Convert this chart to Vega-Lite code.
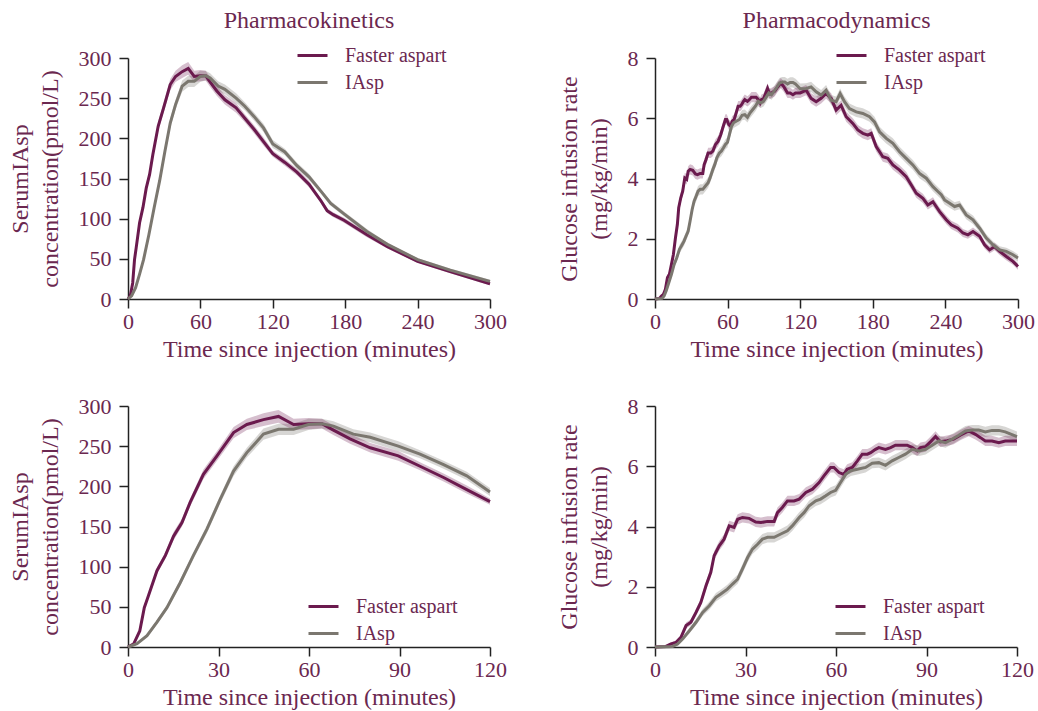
{
  "$schema": "https://vega.github.io/schema/vega-lite/v6.json",
  "background": "white",
  "padding": {"left": 8, "top": 9, "right": 5, "bottom": 3},
  "config": {
    "font": "Liberation Serif",
    "view": {"stroke": null},
    "axis": {
      "grid": false,
      "domainColor": "#222222",
      "tickColor": "#222222",
      "domainWidth": 1.5,
      "tickWidth": 1.5,
      "tickSize": 9,
      "labelFont": "Liberation Serif",
      "labelFontSize": 22,
      "labelColor": "#6b2850",
      "titleFont": "Liberation Serif",
      "titleFontSize": 24,
      "titleFontWeight": "normal",
      "titleColor": "#6b2850",
      "titleLineHeight": 30
    },
    "axisX": {"labelPadding": 3, "titlePadding": 5, "labelFlush": false},
    "axisY": {"labelPadding": 8, "titlePadding": 16},
    "legend": {
      "labelFont": "Liberation Serif",
      "labelFontSize": 20,
      "labelColor": "#6b2850",
      "symbolType": "stroke",
      "symbolSize": 900,
      "symbolStrokeWidth": 3,
      "labelOffset": 16,
      "rowPadding": -7,
      "padding": 0
    },
    "title": {
      "font": "Liberation Serif",
      "fontSize": 24,
      "fontWeight": "normal",
      "color": "#6b2850",
      "frame": "group",
      "offset": 6
    }
  },
  "datasets": {
    "pk": [
      {"s": "Faster aspart", "t": 0, "v": 0, "se": 0},
      {"s": "Faster aspart", "t": 1.9, "v": 4, "se": 1},
      {"s": "Faster aspart", "t": 3.9, "v": 20, "se": 2},
      {"s": "Faster aspart", "t": 5.4, "v": 49, "se": 3},
      {"s": "Faster aspart", "t": 6.8, "v": 64, "se": 3},
      {"s": "Faster aspart", "t": 9.6, "v": 95, "se": 4},
      {"s": "Faster aspart", "t": 12.4, "v": 114, "se": 4},
      {"s": "Faster aspart", "t": 15.1, "v": 138, "se": 5},
      {"s": "Faster aspart", "t": 17.9, "v": 155, "se": 5},
      {"s": "Faster aspart", "t": 20.6, "v": 180, "se": 5},
      {"s": "Faster aspart", "t": 25, "v": 215, "se": 6},
      {"s": "Faster aspart", "t": 29.5, "v": 238, "se": 6},
      {"s": "Faster aspart", "t": 35, "v": 267, "se": 7},
      {"s": "Faster aspart", "t": 39.4, "v": 277, "se": 7},
      {"s": "Faster aspart", "t": 44.9, "v": 283, "se": 8},
      {"s": "Faster aspart", "t": 49.9, "v": 287, "se": 8},
      {"s": "Faster aspart", "t": 54.9, "v": 277, "se": 7},
      {"s": "Faster aspart", "t": 59.8, "v": 278, "se": 7},
      {"s": "Faster aspart", "t": 64.3, "v": 278, "se": 6},
      {"s": "Faster aspart", "t": 68.1, "v": 270, "se": 6},
      {"s": "Faster aspart", "t": 73.6, "v": 259, "se": 6},
      {"s": "Faster aspart", "t": 80.3, "v": 248, "se": 6},
      {"s": "Faster aspart", "t": 89.6, "v": 238, "se": 6},
      {"s": "Faster aspart", "t": 96.8, "v": 225, "se": 5},
      {"s": "Faster aspart", "t": 104.6, "v": 211, "se": 5},
      {"s": "Faster aspart", "t": 112.3, "v": 196, "se": 5},
      {"s": "Faster aspart", "t": 120, "v": 181, "se": 4},
      {"s": "Faster aspart", "t": 130, "v": 170, "se": 4},
      {"s": "Faster aspart", "t": 140, "v": 158, "se": 4},
      {"s": "Faster aspart", "t": 150, "v": 143, "se": 4},
      {"s": "Faster aspart", "t": 160, "v": 122, "se": 3},
      {"s": "Faster aspart", "t": 165, "v": 110, "se": 3},
      {"s": "Faster aspart", "t": 170, "v": 105, "se": 3},
      {"s": "Faster aspart", "t": 179, "v": 98, "se": 3},
      {"s": "Faster aspart", "t": 198, "v": 80, "se": 3},
      {"s": "Faster aspart", "t": 215, "v": 65, "se": 2},
      {"s": "Faster aspart", "t": 240, "v": 47, "se": 2},
      {"s": "Faster aspart", "t": 267, "v": 34, "se": 2},
      {"s": "Faster aspart", "t": 300, "v": 19, "se": 2},
      {"s": "IAsp", "t": 0, "v": 0, "se": 0},
      {"s": "IAsp", "t": 3, "v": 4, "se": 1},
      {"s": "IAsp", "t": 6.3, "v": 14, "se": 2},
      {"s": "IAsp", "t": 9.6, "v": 31, "se": 3},
      {"s": "IAsp", "t": 12.9, "v": 49, "se": 3},
      {"s": "IAsp", "t": 17.3, "v": 80, "se": 4},
      {"s": "IAsp", "t": 21.7, "v": 114, "se": 4},
      {"s": "IAsp", "t": 26.2, "v": 147, "se": 5},
      {"s": "IAsp", "t": 30.6, "v": 184, "se": 5},
      {"s": "IAsp", "t": 35, "v": 219, "se": 6},
      {"s": "IAsp", "t": 39.4, "v": 242, "se": 6},
      {"s": "IAsp", "t": 44.9, "v": 265, "se": 7},
      {"s": "IAsp", "t": 49.9, "v": 271, "se": 7},
      {"s": "IAsp", "t": 54.9, "v": 271, "se": 7},
      {"s": "IAsp", "t": 59.8, "v": 277, "se": 7},
      {"s": "IAsp", "t": 64.3, "v": 278, "se": 6},
      {"s": "IAsp", "t": 68.1, "v": 275, "se": 6},
      {"s": "IAsp", "t": 74.7, "v": 265, "se": 6},
      {"s": "IAsp", "t": 80.3, "v": 261, "se": 6},
      {"s": "IAsp", "t": 89.6, "v": 250, "se": 6},
      {"s": "IAsp", "t": 96.8, "v": 240, "se": 5},
      {"s": "IAsp", "t": 104.6, "v": 227, "se": 5},
      {"s": "IAsp", "t": 112.3, "v": 213, "se": 5},
      {"s": "IAsp", "t": 120, "v": 193, "se": 5},
      {"s": "IAsp", "t": 130, "v": 183, "se": 4},
      {"s": "IAsp", "t": 140, "v": 166, "se": 4},
      {"s": "IAsp", "t": 150, "v": 152, "se": 4},
      {"s": "IAsp", "t": 160, "v": 134, "se": 3},
      {"s": "IAsp", "t": 168, "v": 119, "se": 3},
      {"s": "IAsp", "t": 179, "v": 106, "se": 3},
      {"s": "IAsp", "t": 198, "v": 84, "se": 3},
      {"s": "IAsp", "t": 215, "v": 68, "se": 2},
      {"s": "IAsp", "t": 240, "v": 49, "se": 2},
      {"s": "IAsp", "t": 267, "v": 36, "se": 2},
      {"s": "IAsp", "t": 300, "v": 22, "se": 2}
    ],
    "pd": [
      {"s": "Faster aspart", "t": 0, "v": 0, "se": 0.02},
      {"s": "Faster aspart", "t": 3.6, "v": 0.02, "se": 0.03},
      {"s": "Faster aspart", "t": 5.3, "v": 0.1, "se": 0.05},
      {"s": "Faster aspart", "t": 6.9, "v": 0.15, "se": 0.06},
      {"s": "Faster aspart", "t": 8.6, "v": 0.32, "se": 0.08},
      {"s": "Faster aspart", "t": 10.3, "v": 0.71, "se": 0.1},
      {"s": "Faster aspart", "t": 11.9, "v": 0.82, "se": 0.1},
      {"s": "Faster aspart", "t": 13.6, "v": 1.15, "se": 0.12},
      {"s": "Faster aspart", "t": 15.2, "v": 1.48, "se": 0.13},
      {"s": "Faster aspart", "t": 16.9, "v": 2.03, "se": 0.14},
      {"s": "Faster aspart", "t": 18.5, "v": 2.48, "se": 0.15},
      {"s": "Faster aspart", "t": 19.6, "v": 3.03, "se": 0.15},
      {"s": "Faster aspart", "t": 21.3, "v": 3.36, "se": 0.16},
      {"s": "Faster aspart", "t": 22.9, "v": 3.58, "se": 0.16},
      {"s": "Faster aspart", "t": 24.6, "v": 4.02, "se": 0.17},
      {"s": "Faster aspart", "t": 26.2, "v": 3.97, "se": 0.17},
      {"s": "Faster aspart", "t": 27.4, "v": 4.24, "se": 0.17},
      {"s": "Faster aspart", "t": 29, "v": 4.3, "se": 0.17},
      {"s": "Faster aspart", "t": 31.2, "v": 4.27, "se": 0.17},
      {"s": "Faster aspart", "t": 33.4, "v": 4.15, "se": 0.17},
      {"s": "Faster aspart", "t": 35.1, "v": 4.13, "se": 0.17},
      {"s": "Faster aspart", "t": 37.3, "v": 4.17, "se": 0.17},
      {"s": "Faster aspart", "t": 39.5, "v": 4.17, "se": 0.17},
      {"s": "Faster aspart", "t": 40.6, "v": 4.46, "se": 0.17},
      {"s": "Faster aspart", "t": 42.2, "v": 4.63, "se": 0.17},
      {"s": "Faster aspart", "t": 43.9, "v": 4.85, "se": 0.17},
      {"s": "Faster aspart", "t": 46.1, "v": 4.85, "se": 0.17},
      {"s": "Faster aspart", "t": 47.8, "v": 4.91, "se": 0.17},
      {"s": "Faster aspart", "t": 50, "v": 5.13, "se": 0.17},
      {"s": "Faster aspart", "t": 52.2, "v": 5.24, "se": 0.17},
      {"s": "Faster aspart", "t": 54.4, "v": 5.46, "se": 0.17},
      {"s": "Faster aspart", "t": 56, "v": 5.68, "se": 0.17},
      {"s": "Faster aspart", "t": 58.2, "v": 5.96, "se": 0.17},
      {"s": "Faster aspart", "t": 59.3, "v": 5.96, "se": 0.17},
      {"s": "Faster aspart", "t": 61, "v": 5.79, "se": 0.17},
      {"s": "Faster aspart", "t": 62.6, "v": 5.73, "se": 0.17},
      {"s": "Faster aspart", "t": 63.7, "v": 5.9, "se": 0.17},
      {"s": "Faster aspart", "t": 65.4, "v": 5.96, "se": 0.17},
      {"s": "Faster aspart", "t": 67.1, "v": 6.18, "se": 0.17},
      {"s": "Faster aspart", "t": 68.7, "v": 6.4, "se": 0.17},
      {"s": "Faster aspart", "t": 70.4, "v": 6.4, "se": 0.17},
      {"s": "Faster aspart", "t": 71.5, "v": 6.45, "se": 0.17},
      {"s": "Faster aspart", "t": 73.1, "v": 6.56, "se": 0.17},
      {"s": "Faster aspart", "t": 74.2, "v": 6.62, "se": 0.17},
      {"s": "Faster aspart", "t": 76.4, "v": 6.56, "se": 0.17},
      {"s": "Faster aspart", "t": 78.1, "v": 6.62, "se": 0.17},
      {"s": "Faster aspart", "t": 79.7, "v": 6.7, "se": 0.17},
      {"s": "Faster aspart", "t": 81.9, "v": 6.7, "se": 0.17},
      {"s": "Faster aspart", "t": 83.6, "v": 6.7, "se": 0.17},
      {"s": "Faster aspart", "t": 85.3, "v": 6.62, "se": 0.17},
      {"s": "Faster aspart", "t": 86.9, "v": 6.51, "se": 0.17},
      {"s": "Faster aspart", "t": 88, "v": 6.62, "se": 0.17},
      {"s": "Faster aspart", "t": 89.7, "v": 6.65, "se": 0.17},
      {"s": "Faster aspart", "t": 91.3, "v": 6.81, "se": 0.17},
      {"s": "Faster aspart", "t": 93, "v": 6.99, "se": 0.17},
      {"s": "Faster aspart", "t": 94.6, "v": 6.81, "se": 0.17},
      {"s": "Faster aspart", "t": 96.8, "v": 6.85, "se": 0.17},
      {"s": "Faster aspart", "t": 99, "v": 6.9, "se": 0.17},
      {"s": "Faster aspart", "t": 101.2, "v": 7.03, "se": 0.17},
      {"s": "Faster aspart", "t": 104, "v": 7.17, "se": 0.17},
      {"s": "Faster aspart", "t": 106.2, "v": 7.06, "se": 0.17},
      {"s": "Faster aspart", "t": 107.9, "v": 6.95, "se": 0.17},
      {"s": "Faster aspart", "t": 109.5, "v": 6.84, "se": 0.17},
      {"s": "Faster aspart", "t": 111.7, "v": 6.84, "se": 0.17},
      {"s": "Faster aspart", "t": 114, "v": 6.78, "se": 0.17},
      {"s": "Faster aspart", "t": 116.1, "v": 6.84, "se": 0.17},
      {"s": "Faster aspart", "t": 120, "v": 6.84, "se": 0.17},
      {"s": "Faster aspart", "t": 124.9, "v": 6.93, "se": 0.17},
      {"s": "Faster aspart", "t": 129, "v": 6.66, "se": 0.17},
      {"s": "Faster aspart", "t": 133.2, "v": 6.55, "se": 0.17},
      {"s": "Faster aspart", "t": 137.3, "v": 6.66, "se": 0.17},
      {"s": "Faster aspart", "t": 141.4, "v": 6.82, "se": 0.17},
      {"s": "Faster aspart", "t": 145.6, "v": 6.66, "se": 0.17},
      {"s": "Faster aspart", "t": 149.7, "v": 6.27, "se": 0.17},
      {"s": "Faster aspart", "t": 153.8, "v": 6.43, "se": 0.17},
      {"s": "Faster aspart", "t": 158, "v": 6.05, "se": 0.17},
      {"s": "Faster aspart", "t": 163.5, "v": 5.83, "se": 0.17},
      {"s": "Faster aspart", "t": 167.6, "v": 5.61, "se": 0.17},
      {"s": "Faster aspart", "t": 171.8, "v": 5.5, "se": 0.17},
      {"s": "Faster aspart", "t": 175.9, "v": 5.44, "se": 0.17},
      {"s": "Faster aspart", "t": 178.7, "v": 5.5, "se": 0.17},
      {"s": "Faster aspart", "t": 182.8, "v": 5.06, "se": 0.16},
      {"s": "Faster aspart", "t": 188.3, "v": 4.72, "se": 0.16},
      {"s": "Faster aspart", "t": 192.4, "v": 4.67, "se": 0.16},
      {"s": "Faster aspart", "t": 196.6, "v": 4.45, "se": 0.16},
      {"s": "Faster aspart", "t": 202.1, "v": 4.28, "se": 0.16},
      {"s": "Faster aspart", "t": 207.6, "v": 4.06, "se": 0.16},
      {"s": "Faster aspart", "t": 211.7, "v": 3.79, "se": 0.15},
      {"s": "Faster aspart", "t": 215.9, "v": 3.51, "se": 0.15},
      {"s": "Faster aspart", "t": 221.4, "v": 3.34, "se": 0.15},
      {"s": "Faster aspart", "t": 225.5, "v": 3.12, "se": 0.15},
      {"s": "Faster aspart", "t": 229.7, "v": 3.23, "se": 0.15},
      {"s": "Faster aspart", "t": 235.2, "v": 2.9, "se": 0.14},
      {"s": "Faster aspart", "t": 240.7, "v": 2.63, "se": 0.14},
      {"s": "Faster aspart", "t": 244.8, "v": 2.46, "se": 0.14},
      {"s": "Faster aspart", "t": 250.3, "v": 2.35, "se": 0.14},
      {"s": "Faster aspart", "t": 254.5, "v": 2.19, "se": 0.13},
      {"s": "Faster aspart", "t": 258.6, "v": 2.13, "se": 0.13},
      {"s": "Faster aspart", "t": 262.8, "v": 2.24, "se": 0.13},
      {"s": "Faster aspart", "t": 268.3, "v": 2.08, "se": 0.13},
      {"s": "Faster aspart", "t": 272.4, "v": 1.8, "se": 0.12},
      {"s": "Faster aspart", "t": 276.5, "v": 1.63, "se": 0.12},
      {"s": "Faster aspart", "t": 280.7, "v": 1.74, "se": 0.12},
      {"s": "Faster aspart", "t": 284.8, "v": 1.58, "se": 0.12},
      {"s": "Faster aspart", "t": 290.3, "v": 1.41, "se": 0.12},
      {"s": "Faster aspart", "t": 295.8, "v": 1.25, "se": 0.11},
      {"s": "Faster aspart", "t": 300, "v": 1.08, "se": 0.11},
      {"s": "IAsp", "t": 0, "v": 0, "se": 0.02},
      {"s": "IAsp", "t": 5.8, "v": 0.02, "se": 0.03},
      {"s": "IAsp", "t": 7.5, "v": 0.1, "se": 0.05},
      {"s": "IAsp", "t": 9.2, "v": 0.27, "se": 0.07},
      {"s": "IAsp", "t": 11.4, "v": 0.54, "se": 0.09},
      {"s": "IAsp", "t": 13.6, "v": 0.82, "se": 0.1},
      {"s": "IAsp", "t": 15.8, "v": 1.15, "se": 0.12},
      {"s": "IAsp", "t": 18, "v": 1.37, "se": 0.13},
      {"s": "IAsp", "t": 20.2, "v": 1.65, "se": 0.14},
      {"s": "IAsp", "t": 21.8, "v": 1.76, "se": 0.14},
      {"s": "IAsp", "t": 24, "v": 1.92, "se": 0.15},
      {"s": "IAsp", "t": 25.7, "v": 2.09, "se": 0.15},
      {"s": "IAsp", "t": 27.4, "v": 2.25, "se": 0.15},
      {"s": "IAsp", "t": 29, "v": 2.59, "se": 0.16},
      {"s": "IAsp", "t": 30.7, "v": 2.97, "se": 0.16},
      {"s": "IAsp", "t": 32.3, "v": 3.25, "se": 0.16},
      {"s": "IAsp", "t": 34, "v": 3.41, "se": 0.17},
      {"s": "IAsp", "t": 35.6, "v": 3.58, "se": 0.17},
      {"s": "IAsp", "t": 37.3, "v": 3.64, "se": 0.17},
      {"s": "IAsp", "t": 39.5, "v": 3.64, "se": 0.17},
      {"s": "IAsp", "t": 41.7, "v": 3.75, "se": 0.17},
      {"s": "IAsp", "t": 43.9, "v": 3.86, "se": 0.17},
      {"s": "IAsp", "t": 45.5, "v": 4.02, "se": 0.17},
      {"s": "IAsp", "t": 47.8, "v": 4.3, "se": 0.17},
      {"s": "IAsp", "t": 49.4, "v": 4.46, "se": 0.17},
      {"s": "IAsp", "t": 51.1, "v": 4.69, "se": 0.17},
      {"s": "IAsp", "t": 53.3, "v": 4.85, "se": 0.17},
      {"s": "IAsp", "t": 54.9, "v": 4.91, "se": 0.17},
      {"s": "IAsp", "t": 56.6, "v": 5.02, "se": 0.17},
      {"s": "IAsp", "t": 58.2, "v": 5.13, "se": 0.17},
      {"s": "IAsp", "t": 59.9, "v": 5.2, "se": 0.17},
      {"s": "IAsp", "t": 61.5, "v": 5.46, "se": 0.17},
      {"s": "IAsp", "t": 63.2, "v": 5.73, "se": 0.17},
      {"s": "IAsp", "t": 64.9, "v": 5.85, "se": 0.17},
      {"s": "IAsp", "t": 67.1, "v": 5.9, "se": 0.17},
      {"s": "IAsp", "t": 69.8, "v": 5.96, "se": 0.17},
      {"s": "IAsp", "t": 72, "v": 6.1, "se": 0.17},
      {"s": "IAsp", "t": 74.2, "v": 6.12, "se": 0.17},
      {"s": "IAsp", "t": 76.4, "v": 6.03, "se": 0.17},
      {"s": "IAsp", "t": 78.6, "v": 6.18, "se": 0.17},
      {"s": "IAsp", "t": 80.8, "v": 6.29, "se": 0.17},
      {"s": "IAsp", "t": 83, "v": 6.4, "se": 0.17},
      {"s": "IAsp", "t": 85.3, "v": 6.56, "se": 0.17},
      {"s": "IAsp", "t": 87.5, "v": 6.51, "se": 0.17},
      {"s": "IAsp", "t": 89.7, "v": 6.56, "se": 0.17},
      {"s": "IAsp", "t": 91.9, "v": 6.7, "se": 0.17},
      {"s": "IAsp", "t": 94.1, "v": 6.84, "se": 0.17},
      {"s": "IAsp", "t": 96.3, "v": 6.78, "se": 0.17},
      {"s": "IAsp", "t": 98.5, "v": 6.9, "se": 0.17},
      {"s": "IAsp", "t": 100.7, "v": 7.03, "se": 0.17},
      {"s": "IAsp", "t": 102.9, "v": 7.17, "se": 0.17},
      {"s": "IAsp", "t": 105.1, "v": 7.2, "se": 0.17},
      {"s": "IAsp", "t": 107.3, "v": 7.2, "se": 0.17},
      {"s": "IAsp", "t": 109.5, "v": 7.14, "se": 0.17},
      {"s": "IAsp", "t": 111.7, "v": 7.19, "se": 0.17},
      {"s": "IAsp", "t": 114, "v": 7.19, "se": 0.17},
      {"s": "IAsp", "t": 116.1, "v": 7.14, "se": 0.17},
      {"s": "IAsp", "t": 120, "v": 6.98, "se": 0.17},
      {"s": "IAsp", "t": 124.9, "v": 6.99, "se": 0.17},
      {"s": "IAsp", "t": 129, "v": 7.04, "se": 0.17},
      {"s": "IAsp", "t": 133.2, "v": 6.88, "se": 0.17},
      {"s": "IAsp", "t": 137.3, "v": 6.77, "se": 0.17},
      {"s": "IAsp", "t": 141.4, "v": 6.93, "se": 0.17},
      {"s": "IAsp", "t": 145.6, "v": 6.6, "se": 0.17},
      {"s": "IAsp", "t": 149.7, "v": 6.55, "se": 0.17},
      {"s": "IAsp", "t": 153, "v": 6.82, "se": 0.17},
      {"s": "IAsp", "t": 156.6, "v": 6.55, "se": 0.17},
      {"s": "IAsp", "t": 160.7, "v": 6.32, "se": 0.17},
      {"s": "IAsp", "t": 166.3, "v": 6.21, "se": 0.17},
      {"s": "IAsp", "t": 171.8, "v": 6.16, "se": 0.17},
      {"s": "IAsp", "t": 177.3, "v": 6.05, "se": 0.17},
      {"s": "IAsp", "t": 181.4, "v": 5.88, "se": 0.17},
      {"s": "IAsp", "t": 185.6, "v": 5.55, "se": 0.17},
      {"s": "IAsp", "t": 191.1, "v": 5.33, "se": 0.17},
      {"s": "IAsp", "t": 196.6, "v": 5.17, "se": 0.17},
      {"s": "IAsp", "t": 202.1, "v": 4.89, "se": 0.16},
      {"s": "IAsp", "t": 207.6, "v": 4.67, "se": 0.16},
      {"s": "IAsp", "t": 213.1, "v": 4.45, "se": 0.16},
      {"s": "IAsp", "t": 218.6, "v": 4.17, "se": 0.16},
      {"s": "IAsp", "t": 224.2, "v": 4.01, "se": 0.16},
      {"s": "IAsp", "t": 229.7, "v": 3.73, "se": 0.15},
      {"s": "IAsp", "t": 233.8, "v": 3.57, "se": 0.15},
      {"s": "IAsp", "t": 236.6, "v": 3.46, "se": 0.15},
      {"s": "IAsp", "t": 239.3, "v": 3.29, "se": 0.15},
      {"s": "IAsp", "t": 243.5, "v": 3.18, "se": 0.15},
      {"s": "IAsp", "t": 247.6, "v": 3.07, "se": 0.14},
      {"s": "IAsp", "t": 251.7, "v": 3.12, "se": 0.14},
      {"s": "IAsp", "t": 257.2, "v": 2.79, "se": 0.14},
      {"s": "IAsp", "t": 262.8, "v": 2.63, "se": 0.14},
      {"s": "IAsp", "t": 268.3, "v": 2.35, "se": 0.13},
      {"s": "IAsp", "t": 273.8, "v": 2.02, "se": 0.13},
      {"s": "IAsp", "t": 279.3, "v": 1.8, "se": 0.12},
      {"s": "IAsp", "t": 284.8, "v": 1.63, "se": 0.12},
      {"s": "IAsp", "t": 290.3, "v": 1.58, "se": 0.12},
      {"s": "IAsp", "t": 295.8, "v": 1.47, "se": 0.12},
      {"s": "IAsp", "t": 300, "v": 1.36, "se": 0.12}
    ]
  },
  "columns": 2,
  "spacing": {"row": 107, "column": 165},
  "bounds": "flush",
  "resolve": {
    "scale": {"color": "independent", "x": "independent", "y": "independent"},
    "legend": {"color": "independent"}
  },
  "concat": [
    {
      "width": 362,
      "height": 241,
      "title": {"text": "Pharmacokinetics"},
      "data": {"name": "pk"},
      "encoding": {
        "x": {"field": "t", "type": "quantitative", "scale": {"domain": [0, 300], "nice": false},
              "axis": {"values": [0, 60, 120, 180, 240, 300], "title": "Time since injection (minutes)"}},
        "y": {"field": "v", "type": "quantitative", "scale": {"domain": [0, 300], "nice": false},
              "axis": {"values": [0, 50, 100, 150, 200, 250, 300], "title": ["SerumIAsp", "concentration(pmol/L)"]}}
      },
      "layer": [
        {"transform": [{"filter": "datum.s == 'IAsp'"}],
         "mark": {"type": "errorband", "color": "#7b776f", "opacity": 0.3},
         "encoding": {"yError": {"field": "se"}}},
        {"transform": [{"filter": "datum.s == 'Faster aspart'"}],
         "mark": {"type": "errorband", "color": "#6b1a4e", "opacity": 0.28},
         "encoding": {"yError": {"field": "se"}}},
        {"mark": {"type": "line", "strokeWidth": 3},
         "encoding": {"color": {"field": "s", "type": "nominal",
                                "scale": {"domain": ["Faster aspart", "IAsp"], "range": ["#6b1a4e", "#7b776f"]},
                                "legend": {"title": null, "orient": "none", "legendX": 168, "legendY": -19}}}}
      ]
    },
    {
      "width": 363,
      "height": 241,
      "title": {"text": "Pharmacodynamics"},
      "data": {"name": "pd"},
      "encoding": {
        "x": {"field": "t", "type": "quantitative", "scale": {"domain": [0, 300], "nice": false},
              "axis": {"values": [0, 60, 120, 180, 240, 300], "title": "Time since injection (minutes)"}},
        "y": {"field": "v", "type": "quantitative", "scale": {"domain": [0, 8], "nice": false},
              "axis": {"values": [0, 2, 4, 6, 8], "title": ["Glucose infusion rate", "(mg/kg/min)"]}}
      },
      "layer": [
        {"transform": [{"filter": "datum.s == 'IAsp'"}],
         "mark": {"type": "errorband", "color": "#7b776f", "opacity": 0.3},
         "encoding": {"yError": {"field": "se"}}},
        {"transform": [{"filter": "datum.s == 'Faster aspart'"}],
         "mark": {"type": "errorband", "color": "#6b1a4e", "opacity": 0.28},
         "encoding": {"yError": {"field": "se"}}},
        {"mark": {"type": "line", "strokeWidth": 3},
         "encoding": {"color": {"field": "s", "type": "nominal",
                                "scale": {"domain": ["Faster aspart", "IAsp"], "range": ["#6b1a4e", "#7b776f"]},
                                "legend": {"title": null, "orient": "none", "legendX": 180, "legendY": -19}}}}
      ]
    },
    {
      "width": 362,
      "height": 241,
      "data": {"name": "pk"},
      "transform": [{"filter": "datum.t <= 120"}],
      "encoding": {
        "x": {"field": "t", "type": "quantitative", "scale": {"domain": [0, 120], "nice": false},
              "axis": {"values": [0, 30, 60, 90, 120], "title": "Time since injection (minutes)"}},
        "y": {"field": "v", "type": "quantitative", "scale": {"domain": [0, 300], "nice": false},
              "axis": {"values": [0, 50, 100, 150, 200, 250, 300], "title": ["SerumIAsp", "concentration(pmol/L)"]}}
      },
      "layer": [
        {"transform": [{"filter": "datum.s == 'IAsp'"}],
         "mark": {"type": "errorband", "color": "#7b776f", "opacity": 0.3},
         "encoding": {"yError": {"field": "se"}}},
        {"transform": [{"filter": "datum.s == 'Faster aspart'"}],
         "mark": {"type": "errorband", "color": "#6b1a4e", "opacity": 0.28},
         "encoding": {"yError": {"field": "se"}}},
        {"mark": {"type": "line", "strokeWidth": 3},
         "encoding": {"color": {"field": "s", "type": "nominal",
                                "scale": {"domain": ["Faster aspart", "IAsp"], "range": ["#6b1a4e", "#7b776f"]},
                                "legend": {"title": null, "orient": "none", "legendX": 179, "legendY": 184}}}}
      ]
    },
    {
      "width": 362,
      "height": 241,
      "data": {"name": "pd"},
      "transform": [{"filter": "datum.t <= 120"}],
      "encoding": {
        "x": {"field": "t", "type": "quantitative", "scale": {"domain": [0, 120], "nice": false},
              "axis": {"values": [0, 30, 60, 90, 120], "title": "Time since injection (minutes)"}},
        "y": {"field": "v", "type": "quantitative", "scale": {"domain": [0, 8], "nice": false},
              "axis": {"values": [0, 2, 4, 6, 8], "title": ["Glucose infusion rate", "(mg/kg/min)"]}}
      },
      "layer": [
        {"transform": [{"filter": "datum.s == 'IAsp'"}],
         "mark": {"type": "errorband", "color": "#7b776f", "opacity": 0.3},
         "encoding": {"yError": {"field": "se"}}},
        {"transform": [{"filter": "datum.s == 'Faster aspart'"}],
         "mark": {"type": "errorband", "color": "#6b1a4e", "opacity": 0.28},
         "encoding": {"yError": {"field": "se"}}},
        {"mark": {"type": "line", "strokeWidth": 3},
         "encoding": {"color": {"field": "s", "type": "nominal",
                                "scale": {"domain": ["Faster aspart", "IAsp"], "range": ["#6b1a4e", "#7b776f"]},
                                "legend": {"title": null, "orient": "none", "legendX": 179, "legendY": 184}}}}
      ]
    }
  ]
}
